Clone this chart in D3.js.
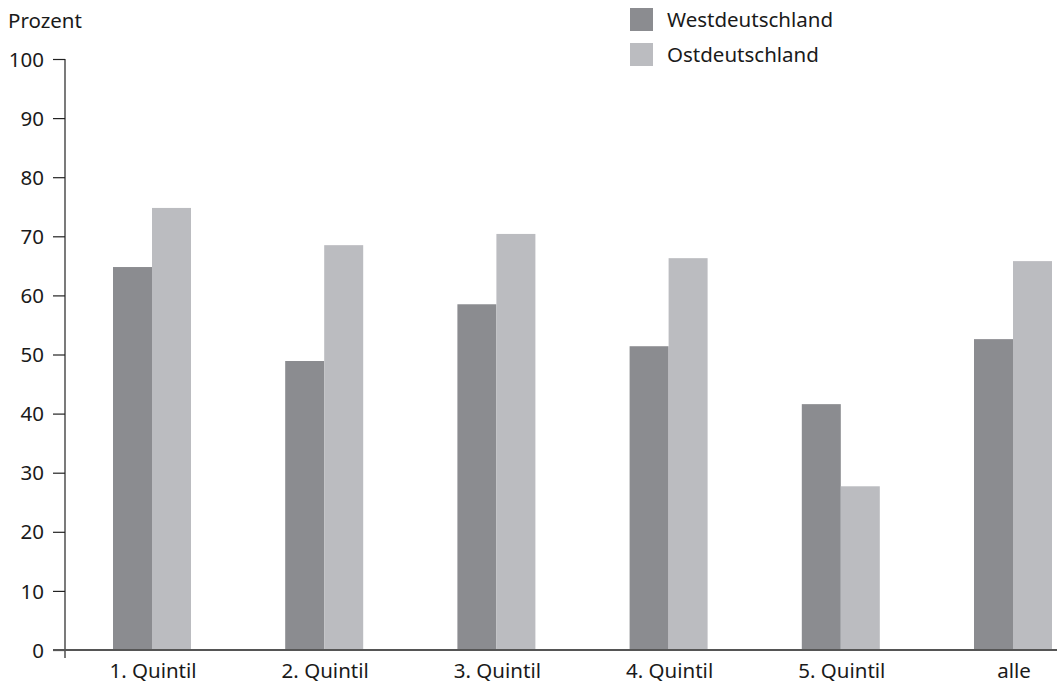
<!DOCTYPE html>
<html><head><meta charset="utf-8">
<script src="https://cdn.jsdelivr.net/npm/d3@7"></script>
<style>body{margin:0;background:#fff}text{font-family:"Noto Sans","Open Sans",sans-serif;fill:#1a1a1a}</style>
</head><body>
<svg id="c" width="1057" height="684"></svg>
<script>
const categories = ["1. Quintil","2. Quintil","3. Quintil","4. Quintil","5. Quintil","alle"];
const seriesNames = ["Westdeutschland","Ostdeutschland"];
const west = [64.8, 48.9, 58.5, 51.4, 41.6, 52.6];
const east = [74.8, 68.5, 70.4, 66.3, 27.7, 65.8];
const yTicks = [0,10,20,30,40,50,60,70,80,90,100];
const colors = ["#8b8c90","#bbbcc0"];
const FS = 20.5;

const svg = d3.select("#c");
const y = d3.scaleLinear().domain([0,100]).range([650,59]);
const x = d3.scalePoint().domain(categories).range([153,1014]);
const sub = d3.scaleBand().domain(seriesNames).range([-40,38]).padding(0);
const series = [west, east];

series.forEach((vals, si) => {
  svg.append("g").selectAll("rect").data(categories).join("rect")
    .attr("x", (c) => x(c) + sub(seriesNames[si]))
    .attr("width", sub.bandwidth())
    .attr("y", (c,i) => y(vals[i]))
    .attr("height", (c,i) => y(0) - y(vals[i]))
    .attr("fill", colors[si]);
});

// y axis
const yAxis = svg.append("g").attr("transform","translate(65,0)")
  .call(d3.axisLeft(y).tickValues(yTicks).tickSize(12).tickPadding(9));
yAxis.select(".domain").remove();
yAxis.selectAll(".tick line").attr("stroke","#222").attr("stroke-width",1.2);
yAxis.selectAll(".tick text").attr("font-size",FS).attr("fill","#1a1a1a")
  .attr("font-family",'"Noto Sans","Open Sans",sans-serif').attr("dy","0.35em");
svg.append("line").attr("x1",65).attr("x2",65).attr("y1",y(100)).attr("y2",658)
  .attr("stroke","#222").attr("stroke-width",1.2);
// x axis
svg.append("line").attr("x1",53).attr("x2",1057).attr("y1",y(0)).attr("y2",y(0))
  .attr("stroke","#555").attr("stroke-width",2);
svg.append("g").selectAll("text").data(categories).join("text")
  .attr("x", c => x(c)).attr("y", 678).attr("text-anchor","middle")
  .attr("font-size",FS).text(c => c);

svg.append("text").attr("x",8).attr("y",28).attr("font-size",FS).text("Prozent");

// legend
const lg = svg.append("g");
seriesNames.forEach((n,i) => {
  lg.append("rect").attr("x",630).attr("y",8+i*35).attr("width",23).attr("height",23).attr("fill",colors[i]);
  lg.append("text").attr("x",667).attr("y",27+i*35).attr("font-size",FS).text(n);
});
</script>
</body></html>
